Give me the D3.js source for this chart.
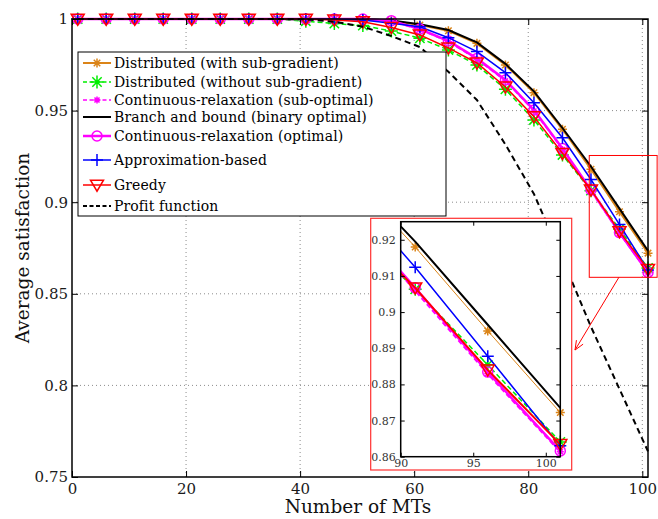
<!DOCTYPE html>
<html><head><meta charset="utf-8">
<script src="https://cdn.jsdelivr.net/npm/d3@7/dist/d3.min.js"></script>
<style>body{margin:0;background:#fff}svg{display:block}text{font-family:"DejaVu Serif",serif}</style>
</head><body><svg id="c" width="658" height="519"></svg>
<script>
// ---------------- data ----------------
const mts = [1,6,11,16,21,26,31,36,41,46,51,56,61,66,71,76,81,86,91,96,101];
const distWithSub    = [1,1,1,1,1,1,1,1,1,1.0000,0.9998,0.9990,0.9967,0.9936,0.9867,0.9749,0.9598,0.9398,0.9180,0.8948,0.8722];
const distWithoutSub = [1,1,1,1,1,1,1,1,0.9988,0.9975,0.9964,0.9934,0.9895,0.9831,0.9749,0.9616,0.9449,0.9258,0.9063,0.8854,0.8641];
const contSubOpt     = [1,1,1,1,1,1,1,1,1,1.0000,0.9998,0.9988,0.9942,0.9876,0.9780,0.9662,0.9498,0.9288,0.9060,0.8830,0.8614];
const branchBound    = [1,1,1,1,1,1,1,1,1,1.0000,0.9999,0.9992,0.9971,0.9940,0.9872,0.9755,0.9605,0.9405,0.9195,0.8965,0.8735];
const contOpt        = [1,1,1,1,1,1,1,1,1,1.0000,1.0000,0.9991,0.9945,0.9880,0.9785,0.9667,0.9503,0.9293,0.9067,0.8834,0.8616];
const approxBased    = [1,1,1,1,1,1,1,1,1,0.9999,0.9995,0.9977,0.9958,0.9898,0.9822,0.9707,0.9543,0.9352,0.9124,0.8878,0.8630];
const greedy         = [1,1,1,1,1,1,1,1,1,0.9995,0.9985,0.9954,0.9913,0.9842,0.9760,0.9629,0.9467,0.9267,0.9067,0.8840,0.8634];
const profitFn       = [1,1,1,1,1,1,1,1,0.9998,0.9985,0.9958,0.9907,0.9847,0.9712,0.9558,0.9315,0.9045,0.8690,0.8320,0.7980,0.7640];

const seriesNames = [
  "Distributed (with sub-gradient)",
  "Distributed (without sub-gradient)",
  "Continuous-relaxation (sub-optimal)",
  "Branch and bound (binary optimal)",
  "Continuous-relaxation (optimal)",
  "Approximation-based",
  "Greedy",
  "Profit function"
];
const xTicks = [0,20,40,60,80,100];
const yTicks = [0.75,0.8,0.85,0.9,0.95,1];
const yTickLabels = ["0.75","0.8","0.85","0.9","0.95","1"];
const insetXTicks = [90,95,100];
const insetYTicks = [0.86,0.87,0.88,0.89,0.9,0.91,0.92];
const insetYTickLabels = ["0.86","0.87","0.88","0.89","0.9","0.91","0.92"];
const xLabel = "Number of MTs";
const yLabel = "Average satisfaction";

(function(){
// ---------------- styles ----------------
const styles = [
  {vals: distWithSub,    color:"#DB8418", w:2,   iw:1,   dash:null,  marker:"star",  ms:4.5},
  {vals: distWithoutSub, color:"#00EE00", w:1.5, iw:1.5, dash:"5,3", marker:"star",  ms:6.5},
  {vals: contSubOpt,     color:"#FF00FF", w:1.5, iw:2.5, dash:"5,3", marker:"star",  ms:3.5},
  {vals: branchBound,    color:"#000000", w:2,   iw:2,   dash:null,  marker:null,    ms:0},
  {vals: contOpt,        color:"#FF00FF", w:2.5, iw:2.5, dash:null,  marker:"circle",ms:5},
  {vals: approxBased,    color:"#0000FF", w:1.5, iw:1.5, dash:null,  marker:"plus",  ms:6},
  {vals: greedy,         color:"#FF0000", w:1.5, iw:2,   dash:null,  marker:"tri",   ms:6.5},
  {vals: profitFn,       color:"#000000", w:2,   iw:2,   dash:"6,4", marker:null,    ms:0}
];

const svg = d3.select("#c");
const x = d3.scaleLinear().domain([0,101]).range([72,648]);
const y = d3.scaleLinear().domain([0.75,1]).range([477,19]);

function drawMarker(g, type, cx, cy, color, s){
  if(!type) return;
  if(type==="circle"){
    g.append("circle").attr("cx",cx).attr("cy",cy).attr("r",s)
      .attr("fill","none").attr("stroke",color).attr("stroke-width",1.5);
    return;
  }
  let d;
  if(type==="star"){ const k=s*0.72;
    d=`M${cx-s},${cy}H${cx+s}M${cx},${cy-s}V${cy+s}M${cx-k},${cy-k}L${cx+k},${cy+k}M${cx-k},${cy+k}L${cx+k},${cy-k}`; }
  else if(type==="plus"){ d=`M${cx-s},${cy}H${cx+s}M${cx},${cy-s}V${cy+s}`; }
  else if(type==="tri"){ d=`M${cx-s},${cy-s*0.75}L${cx+s},${cy-s*0.75}L${cx},${cy+s*0.95}Z`; }
  g.append("path").attr("d",d).attr("fill","none").attr("stroke",color).attr("stroke-width",1.5);
}

// grid
const grid = svg.append("g").attr("stroke","#8c8c8c").attr("stroke-width",1).attr("stroke-dasharray","1,3");
xTicks.filter(t=>t>0).forEach(t=>grid.append("line").attr("x1",x(t)).attr("x2",x(t)).attr("y1",y(0.75)).attr("y2",y(1)));
yTicks.filter(t=>t>0.75&&t<1).forEach(t=>grid.append("line").attr("x1",x(0)).attr("x2",x(101)).attr("y1",y(t)).attr("y2",y(t)));

// series
const line = d3.line().x((d,i)=>x(mts[i])).y(d=>y(d));
styles.forEach(s=>{
  const g = svg.append("g");
  g.append("path").attr("d",line(s.vals)).attr("fill","none").attr("stroke",s.color)
    .attr("stroke-width",s.w).attr("stroke-dasharray",s.dash);
  s.vals.forEach((v,i)=>drawMarker(g,s.marker,x(mts[i]),y(v),s.color,s.ms));
});

// axes box
const ax = svg.append("g");
ax.append("rect").attr("x",x(0)).attr("y",y(1)).attr("width",x(101)-x(0)).attr("height",y(0.75)-y(1))
  .attr("fill","none").attr("stroke","#000").attr("stroke-width",1.5);
const axB = d3.axisBottom(x).tickValues(xTicks).tickSizeInner(-6).tickSizeOuter(0).tickPadding(6);
const axL = d3.axisLeft(y).tickValues(yTicks).tickFormat((d,i)=>yTickLabels[i]).tickSizeInner(-6).tickSizeOuter(0).tickPadding(4);
const axT = d3.axisTop(x).tickValues(xTicks).tickSizeInner(-6).tickSizeOuter(0).tickFormat("");
const axR = d3.axisRight(y).tickValues(yTicks).tickSizeInner(-6).tickSizeOuter(0).tickFormat("");
[[axB,`translate(0,${y(0.75)})`],[axL,`translate(${x(0)},0)`],[axT,`translate(0,${y(1)})`],[axR,`translate(${x(101)},0)`]].forEach(([a,t])=>{
  const g = ax.append("g").attr("transform",t).call(a);
  g.select(".domain").remove();
  g.selectAll("line").attr("stroke","#000").attr("stroke-width",1);
  g.selectAll("text").attr("font-family","DejaVu Serif").attr("font-size",15).attr("fill","#1a1a1a");
});

svg.append("text").attr("x",(x(0)+x(101))/2-2).attr("y",513).attr("text-anchor","middle")
  .attr("font-size",18.5).attr("fill","#111").text(xLabel);
svg.append("text").attr("transform",`translate(29,${(y(0.75)+y(1))/2}) rotate(-90)`).attr("text-anchor","middle")
  .attr("font-size",18.5).attr("fill","#111").text(yLabel);

// legend
const legY = [63,82,100,117,136,160,185,206];
const leg = svg.append("g");
leg.append("rect").attr("x",78).attr("y",52).attr("width",368).attr("height",164)
  .attr("fill","#fff").attr("stroke","#000").attr("stroke-width",1);
styles.forEach((s,i)=>{
  const yy = legY[i];
  leg.append("line").attr("x1",83).attr("x2",111).attr("y1",yy).attr("y2",yy)
    .attr("stroke",s.color).attr("stroke-width",s.w).attr("stroke-dasharray",s.dash?"4,2.5":null);
  drawMarker(leg,s.marker,97,yy,s.color,s.ms);
  leg.append("text").attr("x",114).attr("y",yy).attr("dy","0.36em").attr("font-size",14)
    .attr("letter-spacing","0.1px").attr("fill","#000").text(seriesNames[i]);
});

// zoom rectangle and arrow
const zoomBox = {x0:90.7, x1:102.6, y0:0.859, y1:0.9255};
svg.append("rect").attr("x",x(zoomBox.x0)).attr("y",y(zoomBox.y1)).attr("width",x(zoomBox.x1)-x(zoomBox.x0))
  .attr("height",y(zoomBox.y0)-y(zoomBox.y1)).attr("fill","none").attr("stroke","#FF0000").attr("stroke-width",1);
const a0=[x(95.9),y(0.859)], a1=[x(88.2),y(0.8193)];
const ang=Math.atan2(a1[1]-a0[1],a1[0]-a0[0]), hl=10, ha=0.4;
svg.append("path").attr("d",`M${a0[0]},${a0[1]}L${a1[0]},${a1[1]}M${a1[0]-hl*Math.cos(ang-ha)},${a1[1]-hl*Math.sin(ang-ha)}L${a1[0]},${a1[1]}L${a1[0]-hl*Math.cos(ang+ha)},${a1[1]-hl*Math.sin(ang+ha)}`)
  .attr("fill","none").attr("stroke","#FF0000").attr("stroke-width",1);

// inset
const ins = svg.append("g");
ins.append("rect").attr("x",370.7).attr("y",218.3).attr("width",201).attr("height",251.7)
  .attr("fill","#fff").attr("stroke","#FF3030").attr("stroke-width",1.2);
const ix = d3.scaleLinear().domain([90,101]).range([400.7,560.3]);
const iy = d3.scaleLinear().domain([0.86,0.925]).range([456.7,221.7]);
svg.append("defs").append("clipPath").attr("id","ic").append("rect")
  .attr("x",ix(90)).attr("y",iy(0.925)).attr("width",ix(101)-ix(90)).attr("height",iy(0.86)-iy(0.925));
const iline = d3.line().x((d,i)=>ix(mts[i])).y(d=>iy(d));
styles.filter(s=>s.vals!==profitFn).forEach(s=>{
  const g = ins.append("g");
  g.append("path").attr("d",iline(s.vals)).attr("fill","none").attr("stroke",s.color)
    .attr("stroke-width",s.iw).attr("stroke-dasharray",s.dash).attr("clip-path","url(#ic)");
  s.vals.forEach((v,i)=>{ if(mts[i]>=90) drawMarker(g,s.marker,ix(mts[i]),iy(v),s.color,s.ms); });
});
ins.append("rect").attr("x",ix(90)).attr("y",iy(0.925)).attr("width",ix(101)-ix(90)).attr("height",iy(0.86)-iy(0.925))
  .attr("fill","none").attr("stroke","#000").attr("stroke-width",1.5);
const ib = d3.axisBottom(ix).tickValues(insetXTicks).tickSizeInner(-4).tickSizeOuter(0).tickPadding(3);
const il = d3.axisLeft(iy).tickValues(insetYTicks).tickFormat((d,i)=>insetYTickLabels[i]).tickSizeInner(-4).tickSizeOuter(0).tickPadding(5);
const itp = d3.axisTop(ix).tickValues(insetXTicks).tickSizeInner(-4).tickSizeOuter(0).tickFormat("");
const irt = d3.axisRight(iy).tickValues(insetYTicks).tickSizeInner(-4).tickSizeOuter(0).tickFormat("");
[[ib,`translate(0,${iy(0.86)})`],[il,`translate(${ix(90)},0)`],[itp,`translate(0,${iy(0.925)})`],[irt,`translate(${ix(101)},0)`]].forEach(([a,t])=>{
  const g = ins.append("g").attr("transform",t).call(a);
  g.select(".domain").remove();
  g.selectAll("line").attr("stroke","#000").attr("stroke-width",1);
  g.selectAll("text").attr("font-family","DejaVu Serif").attr("font-size",11).attr("fill","#333");
});
})();
</script></body></html>
